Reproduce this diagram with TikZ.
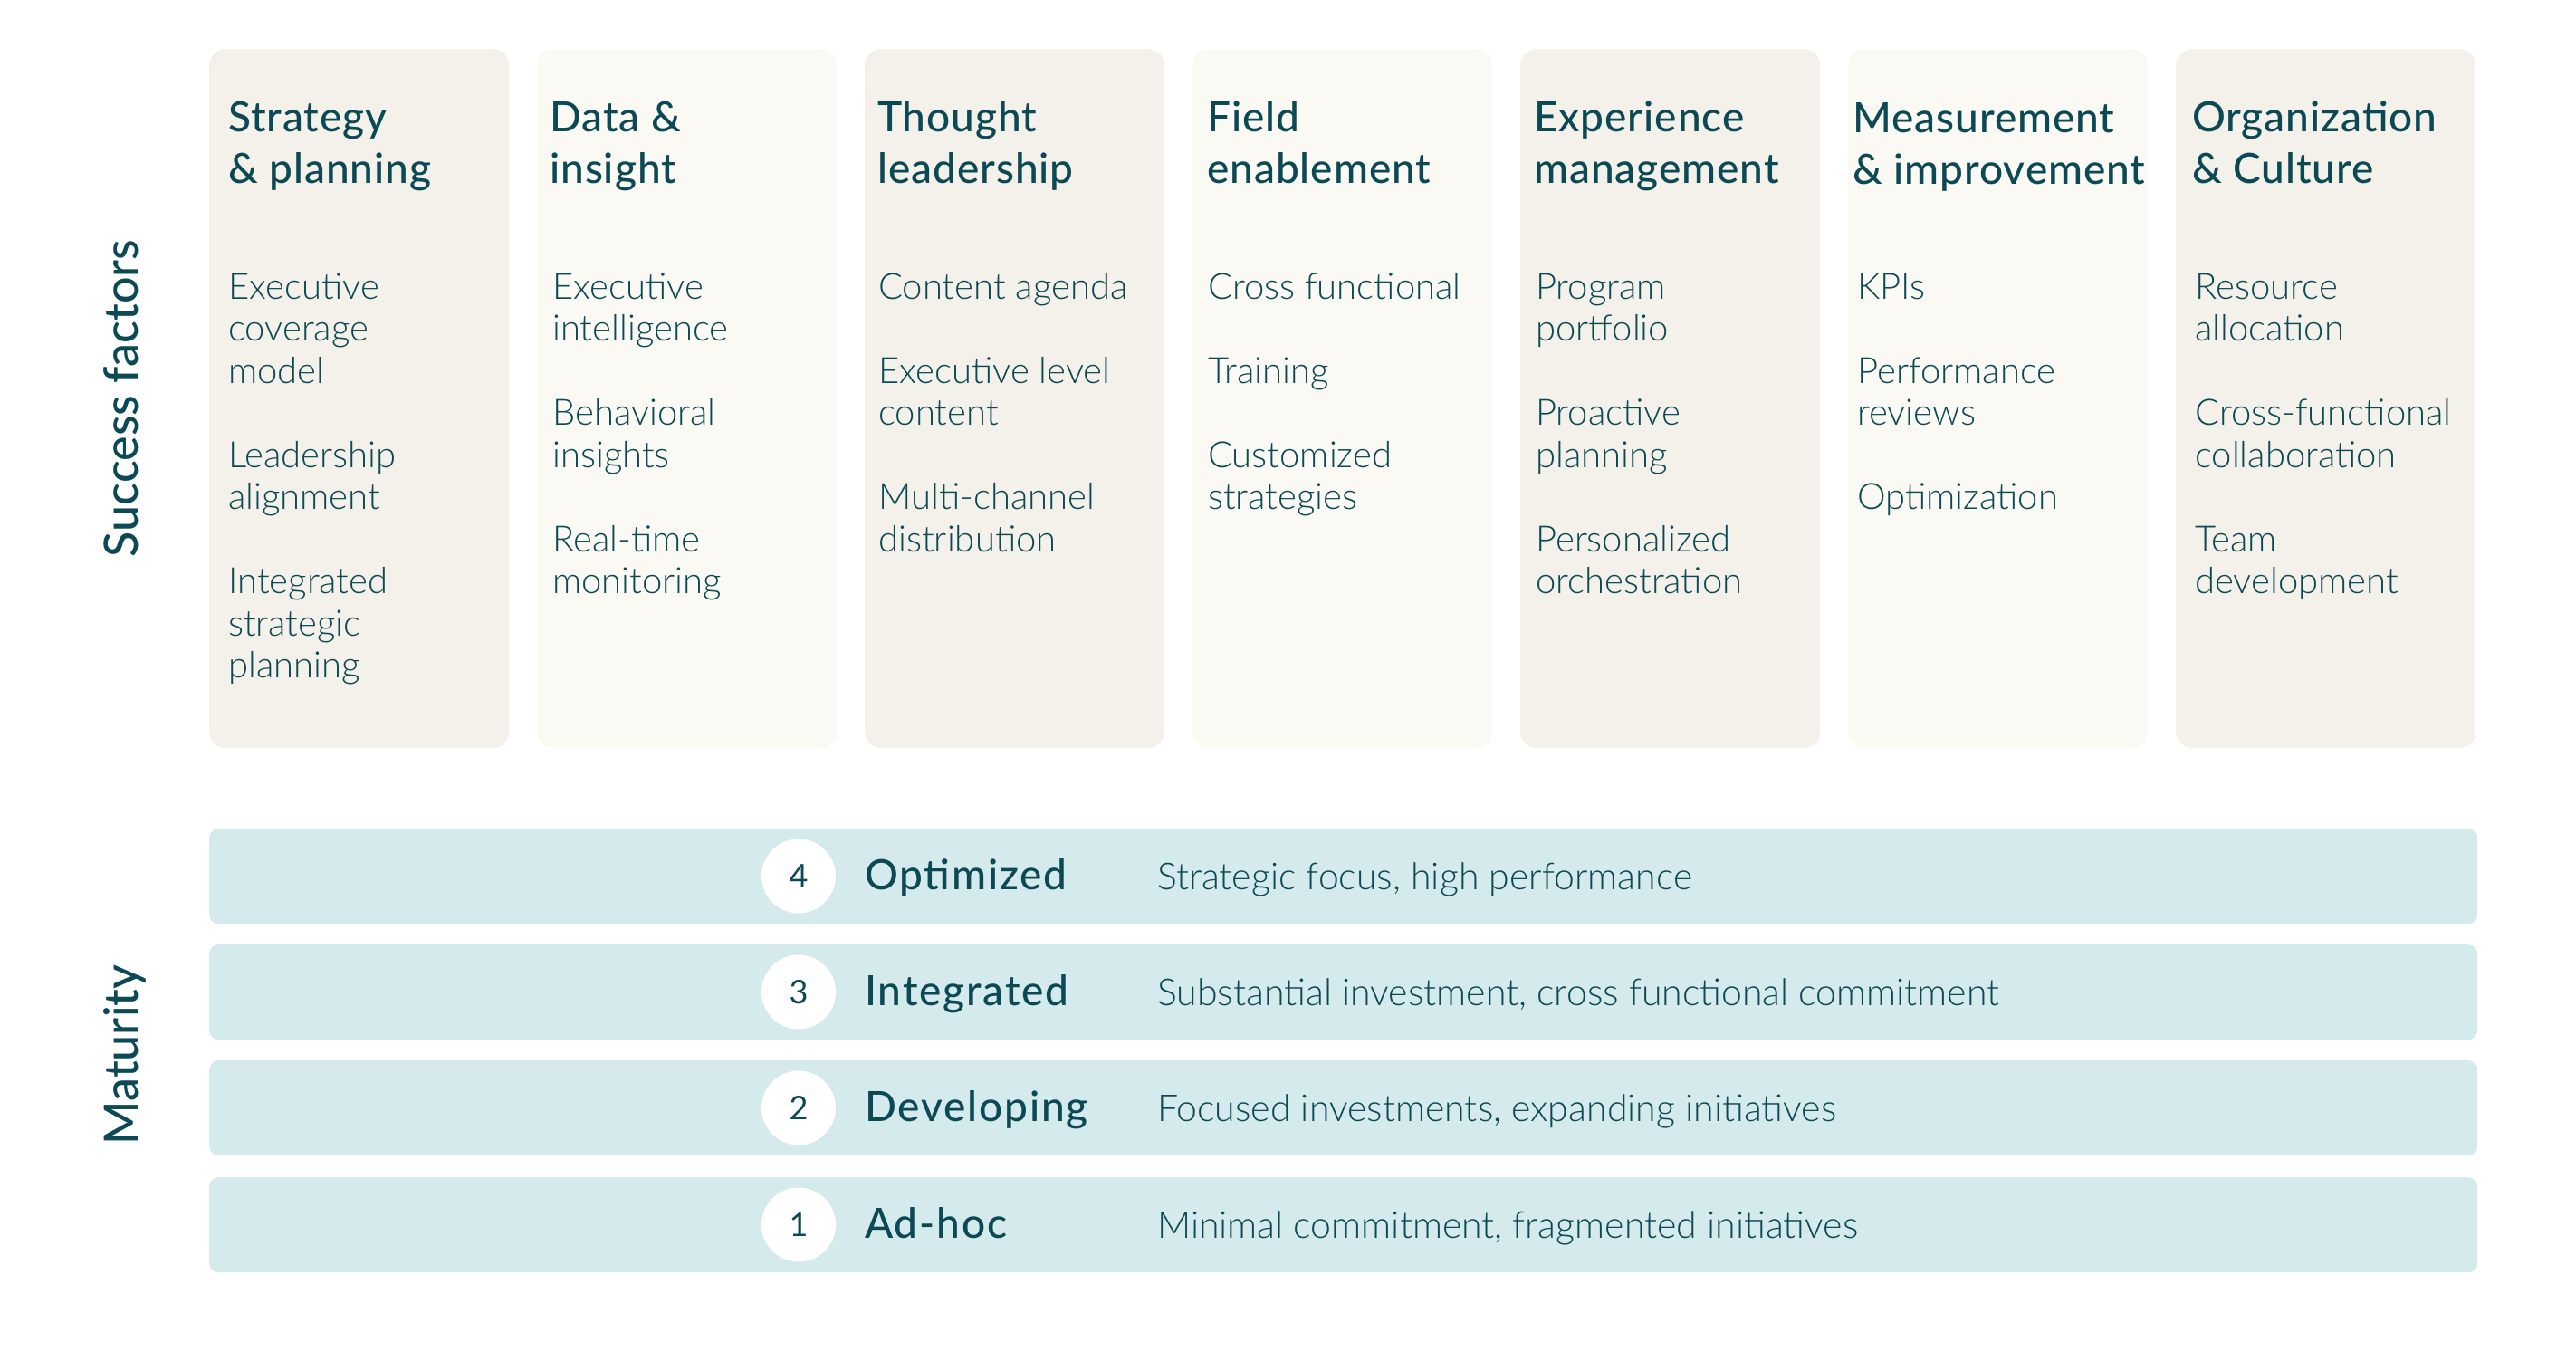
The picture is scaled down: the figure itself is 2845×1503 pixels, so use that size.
\documentclass[tikz,border=0pt]{standalone}
\usepackage{fontspec}
\setmainfont{Lato}
\newfontfamily\medfont{Lato Medium}
\newfontfamily\headfont{Lato Medium}[LetterSpace=2]
\newfontfamily\lvlfont{Lato Medium}[LetterSpace=4]
\newfontfamily\lightfont{Lato Light}
\definecolor{ink}{HTML}{0B4954}
\definecolor{colA}{HTML}{F4F1EA}
\definecolor{colB}{HTML}{FAF9F4}
\definecolor{bandc}{HTML}{D5EAEC}
\newcommand{\hstrut}{\rule{0pt}{50pt}}
\newcommand{\bstrut}{\rule{0pt}{45pt}}
\begin{document}
\begin{tikzpicture}[x=1pt,y=-1pt,
  colbox/.style={draw=none, rounded corners=18pt, minimum width=331pt, minimum height=772pt, inner sep=0pt, anchor=north west},
  head/.style={anchor=north west, inner sep=0pt, align=left, text=ink, font=\headfont\fontsize{46}{57}\selectfont},
  body/.style={anchor=north west, inner sep=0pt, align=left, text=ink, font=\lightfont\fontsize{40}{46.5}\selectfont},
  bandbox/.style={draw=none, fill=bandc, rounded corners=10pt, minimum width=2505pt, minimum height=105pt, inner sep=0pt, anchor=north west},
  numc/.style={circle, fill=white, minimum size=82pt, inner sep=0pt, text=ink, font=\fontsize{36}{40}\selectfont},
  lvl/.style={anchor=base west, inner sep=0pt, text=ink, font=\lvlfont\fontsize{46}{50}\selectfont},
  desc/.style={anchor=base west, inner sep=0pt, text=ink, font=\lightfont\fontsize{41}{46}\selectfont},
  side/.style={anchor=base, inner sep=0pt, rotate=90, text=ink, font=\medfont\fontsize{52}{60}\selectfont}
]
\useasboundingbox (0,0) rectangle (2845,1503);
\fill[white] (0,0) rectangle (2845,1503);

% columns
\node[colbox, fill=colA] (c1) at (231,54) {};
\node[colbox, fill=colB] (c2) at (593,54) {};
\node[colbox, fill=colA] (c3) at (955,54) {};
\node[colbox, fill=colB] (c4) at (1317,54) {};
\node[colbox, fill=colA] (c5) at (1679,54) {};
\node[colbox, fill=colB] (c6) at (2041,54) {};
\node[colbox, fill=colA] (c7) at (2403,54) {};

% headings
\node[head] (h1) at (252,95) {\hstrut Strategy\\\& planning};
\node[head] (h2) at (607,95) {\hstrut Data \&\\insight};
\node[head] (h3) at (969,95) {\hstrut Thought\\leadership};
\node[head] (h4) at (1333,95) {\hstrut Field\\enablement};
\node[head] (h5) at (1694,95) {\hstrut Experience\\management};
\node[head] (h6) at (2046,96) {\hstrut Measurement\\\& improvement};
\node[head] (h7) at (2421,95) {\hstrut Organization\\\& Culture};

% bodies
\node[body] (t1) at (252,285) {\bstrut Executive\\coverage\\model\\[46.5pt]Leadership\\alignment\\[46.5pt]Integrated\\strategic\\planning};
\node[body] (t2) at (610,285) {\bstrut Executive\\intelligence\\[46.5pt]Behavioral\\insights\\[46.5pt]Real-time\\monitoring};
\node[body] (t3) at (970,285) {\bstrut Content agenda\\[46.5pt]Executive level\\content\\[46.5pt]Multi-channel\\distribution};
\node[body] (t4) at (1334,285) {\bstrut Cross functional\\[46.5pt]Training\\[46.5pt]Customized\\strategies};
\node[body] (t5) at (1696,285) {\bstrut Program\\portfolio\\[46.5pt]Proactive\\planning\\[46.5pt]Personalized\\orchestration};
\node[body] (t6) at (2051,285) {\bstrut KPIs\\[46.5pt]Performance\\reviews\\[46.5pt]Optimization};
\node[body] (t7) at (2424,285) {\bstrut Resource\\allocation\\[46.5pt]Cross-functional\\collaboration\\[46.5pt]Team\\development};

% side labels
\node[side] (sf) at (152,440) {Success factors};
\node[side] (mt) at (152,1165) {Maturity};

% maturity bands
\node[bandbox] (b4) at (231,915) {};
\node[bandbox] (b3) at (231,1043) {};
\node[bandbox] (b2) at (231,1171) {};
\node[bandbox] (b1) at (231,1300) {};

\node[numc] (n4) at (882,967.5) {4};
\node[numc] (n3) at (882,1095.5) {3};
\node[numc] (n2) at (882,1223.5) {2};
\node[numc] (n1) at (882,1352.5) {1};

\node[lvl] (l4) at (955,982) {Optimized};
\node[lvl] (l3) at (955,1110) {Integrated};
\node[lvl] (l2) at (955,1238) {Developing};
\node[lvl] (l1) at (955,1367) {Ad-hoc};

\node[desc] (d4) at (1278,982) {Strategic focus, high performance};
\node[desc] (d3) at (1278,1110) {Substantial investment, cross functional commitment};
\node[desc] (d2) at (1278,1238) {Focused investments, expanding initiatives};
\node[desc] (d1) at (1278,1367) {Minimal commitment, fragmented initiatives};
\end{tikzpicture}
\end{document}
